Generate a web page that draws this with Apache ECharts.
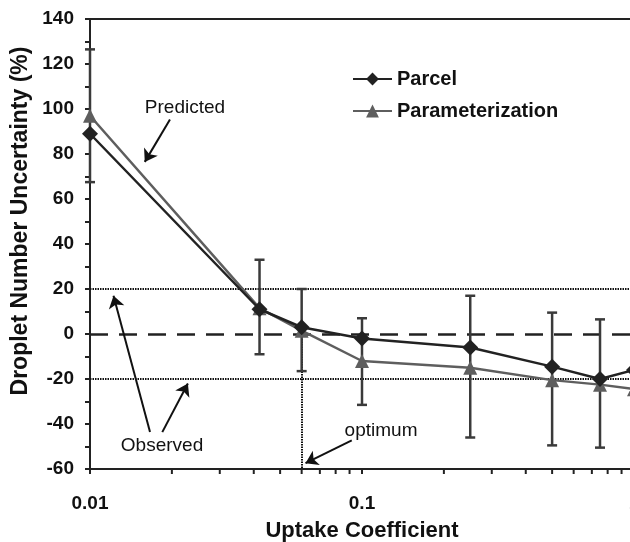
<!DOCTYPE html>
<html>
<head>
<meta charset="utf-8">
<script src="https://cdn.jsdelivr.net/npm/echarts@6/dist/echarts.min.js"></script>
<style>
  html, body { margin: 0; padding: 0; background: #fff; }
  #chart { width: 630px; height: 542px; }
</style>
</head>
<body>
<div id="chart"></div>
<script>
// Uptake coefficient (log scale) and droplet-number uncertainty (%)
const uptake = [0.01, 0.042, 0.06, 0.1, 0.25, 0.5, 0.75, 1.0];
const parcel = [89, 11, 3, -2, -6, -14.5, -20, -16];
const parameterization = [97, 11.5, 1.5, -12, -15, -20.5, -22.5, -24.5];
// Error bar extents around the parameterization values
const errLow = [67.5, -9, -16.5, -31.5, -46, -49.5, -50.5, null];
const errHigh = [126.5, 33, 20, 7, 17, 9.5, 6.5, null];

// Axis ticks
const yTicks = { min: -60, max: 140, interval: 20 };
const xMinorTicks = [0.02, 0.03, 0.04, 0.05, 0.06, 0.07, 0.08, 0.09,
                     0.2, 0.3, 0.4, 0.5, 0.6, 0.7, 0.8, 0.9];

// Reference lines
const observedBand = [-20, 20];
const optimumUptake = 0.06;

// Annotation arrows: [from, to] in data coordinates
const arrows = [
  [[0.01968, 95.3], [0.0159, 76.5]],     // Predicted
  [[0.01662, -43.6], [0.0122, 17.0]],    // Observed (upper)
  [[0.01844, -43.6], [0.0229, -22.0]],   // Observed (lower)
  [[0.0917, -47.3], [0.0620, -57.4]]     // optimum
];
const notes = [
  { text: 'Predicted', at: [0.02234, 100.7] },
  { text: 'Observed', at: [0.0184, -49.6] },
  { text: 'optimum', at: [0.1175, -42.9] }
];

const ink = '#222';
const grey = '#5e5e5e';
const barInk = '#3a3a3a';

const errData = uptake
  .map((x, i) => [x, errLow[i], errHigh[i]])
  .filter(d => d[1] !== null && d[2] !== null);

const chart = echarts.init(document.getElementById('chart'), null, { renderer: 'canvas' });

chart.setOption({
  animation: false,
  backgroundColor: '#fff',
  grid: {
    left: 90, top: 19, width: 544, height: 450,
    outerBoundsMode: 'none',
    containLabel: false,
    show: true, borderColor: ink, borderWidth: 2, backgroundColor: 'transparent'
  },
  legend: {
    data: ['Parcel', 'Parameterization'],
    orient: 'vertical',
    left: 347, top: 64,
    itemWidth: 39, itemHeight: 16, itemGap: 12,
    textStyle: { fontFamily: 'Liberation Sans, Arial, sans-serif', fontWeight: 'bold', fontSize: 20, color: '#111' }
  },
  xAxis: {
    type: 'log',
    logBase: 10,
    min: 0.01, max: 1,
    name: 'Uptake Coefficient',
    nameLocation: 'middle',
    nameGap: 51,
    nameTextStyle: { fontFamily: 'Liberation Sans, Arial, sans-serif', fontWeight: 'bold', fontSize: 22, color: '#111' },
    axisLine: { onZero: false, lineStyle: { color: ink, width: 2 } },
    axisTick: { show: true, length: 5, lineStyle: { color: ink, width: 2 } },
    axisLabel: {
      margin: 25,
      fontFamily: 'Liberation Sans, Arial, sans-serif', fontWeight: 'bold', fontSize: 19, color: '#111',
      formatter: v => String(v)
    },
    splitLine: { show: false }
  },
  yAxis: {
    type: 'value',
    min: yTicks.min, max: yTicks.max, interval: yTicks.interval,
    axisLine: { show: true, onZero: false, lineStyle: { color: ink, width: 2 } },
    axisTick: { show: true, length: 5, lineStyle: { color: ink, width: 2 } },
    minorTick: { show: true, splitNumber: 2, length: 5, lineStyle: { color: ink, width: 2 } },
    axisLabel: {
      margin: 16,
      fontFamily: 'Liberation Sans, Arial, sans-serif', fontWeight: 'bold', fontSize: 19, color: '#111'
    },
    splitLine: { show: false }
  },
  graphic: [{
    type: 'text',
    x: 21, y: 221,
    rotation: Math.PI / 2,
    style: {
      text: 'Droplet Number Uncertainty (%)',
      align: 'center', verticalAlign: 'middle',
      font: 'bold 23px "Liberation Sans", Arial, sans-serif',
      fill: '#111'
    }
  }],
  series: [
    {
      // reference lines, arrows and annotation texts
      name: 'notes',
      type: 'line',
      data: [],
      silent: true,
      markLine: {
        silent: true,
        z: 1,
        label: { show: false },
        symbol: ['none', 'none'],
        data: [
          [{ coord: [0.01, 0], lineStyle: { type: [18, 11], width: 2.5, color: ink } },
           { coord: [1, 0] }],
          [{ coord: [0.01, observedBand[1]], lineStyle: { type: [1.5, 1], width: 2, color: '#111' } },
           { coord: [1, observedBand[1]] }],
          [{ coord: [0.01, observedBand[0]], lineStyle: { type: [1.5, 1], width: 2, color: '#111' } },
           { coord: [1, observedBand[0]] }],
          [{ coord: [optimumUptake, 0], lineStyle: { type: [1.5, 1], width: 2, color: '#111' } },
           { coord: [optimumUptake, yTicks.min] }]
        ].concat(arrows.map(a => [
          { coord: a[0], symbol: 'none', lineStyle: { type: 'solid', width: 2, color: '#111' } },
          { coord: a[1], symbol: 'arrow', symbolSize: 12 }
        ]))
      },
      markPoint: {
        silent: true,
        symbol: 'circle',
        symbolSize: 1,
        itemStyle: { color: 'rgba(0,0,0,0)' },
        label: {
          show: true, position: 'inside',
          fontFamily: 'Liberation Sans, Arial, sans-serif', fontSize: 19, color: '#111'
        },
        data: notes.map(n => ({ coord: n.at, value: n.text, label: { formatter: n.text } }))
      }
    },
    {
      name: 'errors',
      type: 'custom',
      z: 2,
      clip: false,
      encode: { x: 0, y: [1, 2] },
      data: errData,
      renderItem: (params, api) => {
        const x = api.value(0);
        const top = api.coord([x, api.value(2)]);
        const bot = api.coord([x, api.value(1)]);
        const w = 5;
        const st = { stroke: barInk, lineWidth: 2.5 };
        return {
          type: 'group',
          children: [
            { type: 'line', shape: { x1: top[0], y1: top[1], x2: bot[0], y2: bot[1] }, style: st },
            { type: 'line', shape: { x1: top[0] - w, y1: top[1], x2: top[0] + w, y2: top[1] }, style: st },
            { type: 'line', shape: { x1: bot[0] - w, y1: bot[1], x2: bot[0] + w, y2: bot[1] }, style: st }
          ]
        };
      }
    },
    {
      name: 'xMinor',
      type: 'custom',
      silent: true,
      clip: false,
      encode: { x: 0, y: 1 },
      data: xMinorTicks.map(v => [v, yTicks.min]),
      renderItem: (params, api) => {
        const p = api.coord([api.value(0), api.value(1)]);
        return {
          type: 'line',
          shape: { x1: p[0], y1: p[1], x2: p[0], y2: p[1] + 5 },
          style: { stroke: ink, lineWidth: 2 }
        };
      }
    },
    {
      name: 'Parameterization',
      type: 'line',
      z: 3,
      clip: false,
      data: uptake.map((x, i) => [x, parameterization[i]]),
      symbol: 'triangle',
      symbolSize: 14,
      lineStyle: { color: grey, width: 2.5 },
      itemStyle: { color: grey }
    },
    {
      name: 'Parcel',
      type: 'line',
      z: 4,
      clip: false,
      data: uptake.map((x, i) => [x, parcel[i]]),
      symbol: 'diamond',
      symbolSize: 16,
      lineStyle: { color: ink, width: 2.5 },
      itemStyle: { color: ink }
    }
  ]
});
</script>
</body>
</html>
